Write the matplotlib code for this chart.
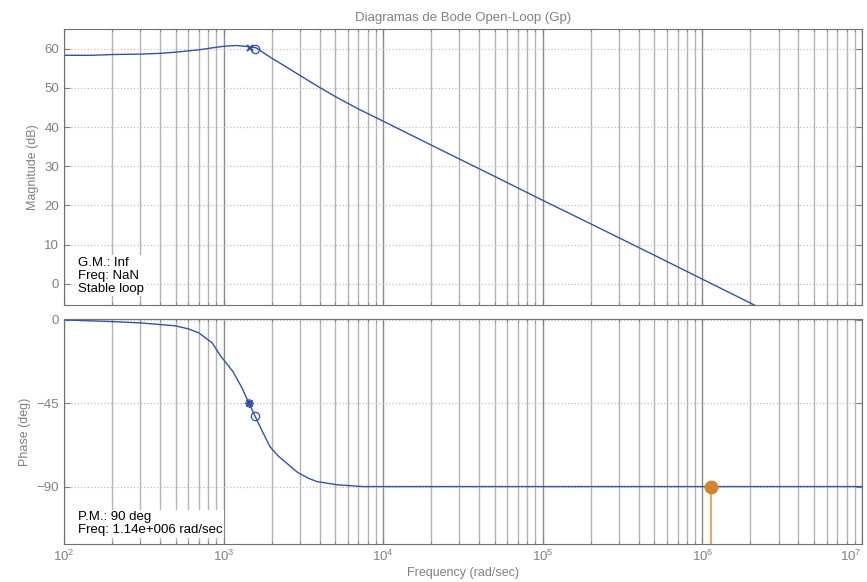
import numpy as np
import matplotlib
matplotlib.use('Agg')
import matplotlib.pyplot as plt
from matplotlib.ticker import LogLocator, NullFormatter
from matplotlib.transforms import ScaledTranslation

plt.rcParams['font.family'] = ['Liberation Sans', 'DejaVu Sans']

# magnitude curve
mag_w = [100, 150, 200, 300, 400, 500, 700, 850, 1000, 1200, 1450, 1600, 1800, 2000,
         2500, 3000, 4000, 5000, 7000, 1e4, 2e4, 5e4, 1e5, 2e5, 5e5, 1e6, 2e6, 3e6]
mag_db = [58.3, 58.3, 58.5, 58.6, 58.8, 59.1, 59.7, 60.2, 60.6, 60.8, 60.5, 60.2,
          58.8, 57.6, 55.2, 53.2, 50.1, 47.8, 44.6, 41.5, 35.4, 27.4, 21.3, 15.3,
          7.3, 1.2, -4.9, -8.4]

# phase curve
ph_w = [100, 200, 300, 500, 600, 700, 850, 948, 1146, 1300, 1443, 1700, 1951, 2200,
        2496, 2925, 3400, 3846, 5130, 7450, 1e5, 1e6, 1e7]
ph_deg = [0, -0.9, -1.6, -3.2, -4.8, -7, -12.5, -18.9, -28, -36.5, -45, -58, -68.4,
          -73.5, -77.5, -82.5, -85.5, -87.3, -89, -90, -90, -90, -90]

# margin markers
mag_x = (1462, 60.2)
mag_o = (1574, 60.0)
ph_x = (1443, -45)
ph_o = (1574, -52)
pm_freq = 1.14e6

decades = [1e2, 1e3, 1e4, 1e5, 1e6, 1e7]

blue = '#3352a8'
gray = '#808080'

fig = plt.figure(figsize=(8.67, 5.82), dpi=100)
ax1 = fig.add_axes([0.0738, 0.4759, 0.9204, 0.4742])
ax2 = fig.add_axes([0.0738, 0.0653, 0.9204, 0.3866])

for ax in (ax1, ax2):
    ax.set_xscale('log')
    ax.set_xlim(1e2, 1e7)
    ax.set_xticks(decades)
    ax.xaxis.set_minor_locator(LogLocator(base=10, subs=np.arange(2, 10), numticks=20))
    ax.xaxis.set_minor_formatter(NullFormatter())
    ax.tick_params(which='both', direction='in', top=True, right=True,
                   colors=gray, labelsize=9.5, length=4)
    ax.tick_params(which='minor', length=2.5)
    for s in ax.spines.values():
        s.set_color('#707070')
    ax.grid(True, which='major', axis='x', color='#8c8c8c', lw=1.0, ls='-')
    ax.grid(True, which='minor', axis='x', color='#b4b4b4', lw=1.0, ls='-')
    ax.grid(True, which='major', axis='y', color='#c0c0c0', lw=0.9, ls=':')
    ax.set_axisbelow(True)

ax1.plot(mag_w, mag_db, color=blue, lw=1.0)
ax1.plot(*mag_x, marker='x', color=blue, ms=5, mew=1.5)
ax1.plot(*mag_o, marker='o', mfc='none', mec=blue, ms=6, mew=0.9)
ax1.set_ylim(-5.4, 65)
ax1.set_yticks([0, 10, 20, 30, 40, 50, 60])
ax1.xaxis.set_major_formatter(NullFormatter())
ax1.set_ylabel('Magnitude (dB)', color=gray, fontsize=9)
ax1.set_title('Diagramas de Bode Open-Loop (Gp)', color=gray, fontsize=9.5, pad=6)
ax1.text(0.018, 0.175, 'G.M.: Inf\nFreq: NaN\nStable loop', transform=ax1.transAxes,
         fontsize=9.5, va='top', ha='left', linespacing=1.1,
         bbox=dict(facecolor='white', edgecolor='none', pad=1))

ax2.plot(ph_w, ph_deg, color=blue, lw=1.0)
ax2.plot(*ph_x, marker=(8, 2, 0), color=blue, ms=6, mew=1.2)
ax2.plot(*ph_o, marker='o', mfc='none', mec=blue, ms=6, mew=0.9)
ax2.set_ylim(-121, 0.5)
ax2.plot([pm_freq, pm_freq], [-121, -90], color='#e8aa6a', lw=1.5)
ax2.plot(pm_freq, -90, marker='o', color='#d4842a', ms=9)
ax2.set_yticks([-90, -45, 0])
ax2.set_ylabel('Phase (deg)', color=gray, fontsize=9)
ax2.set_xlabel('Frequency (rad/sec)', color=gray, fontsize=9, labelpad=2)
ax2.text(0.018, 0.145, 'P.M.: 90 deg\nFreq: 1.14e+006 rad/sec', transform=ax2.transAxes,
         fontsize=9.5, va='top', ha='left', linespacing=1.1,
         bbox=dict(facecolor='white', edgecolor='none', pad=1))

# pull the last decade label in so it stays on the canvas
last = ax2.get_xticklabels()[-1]
last.set_transform(last.get_transform() + ScaledTranslation(-8 / 72, 0, fig.dpi_scale_trans))

fig.savefig('out.png', dpi=100)
